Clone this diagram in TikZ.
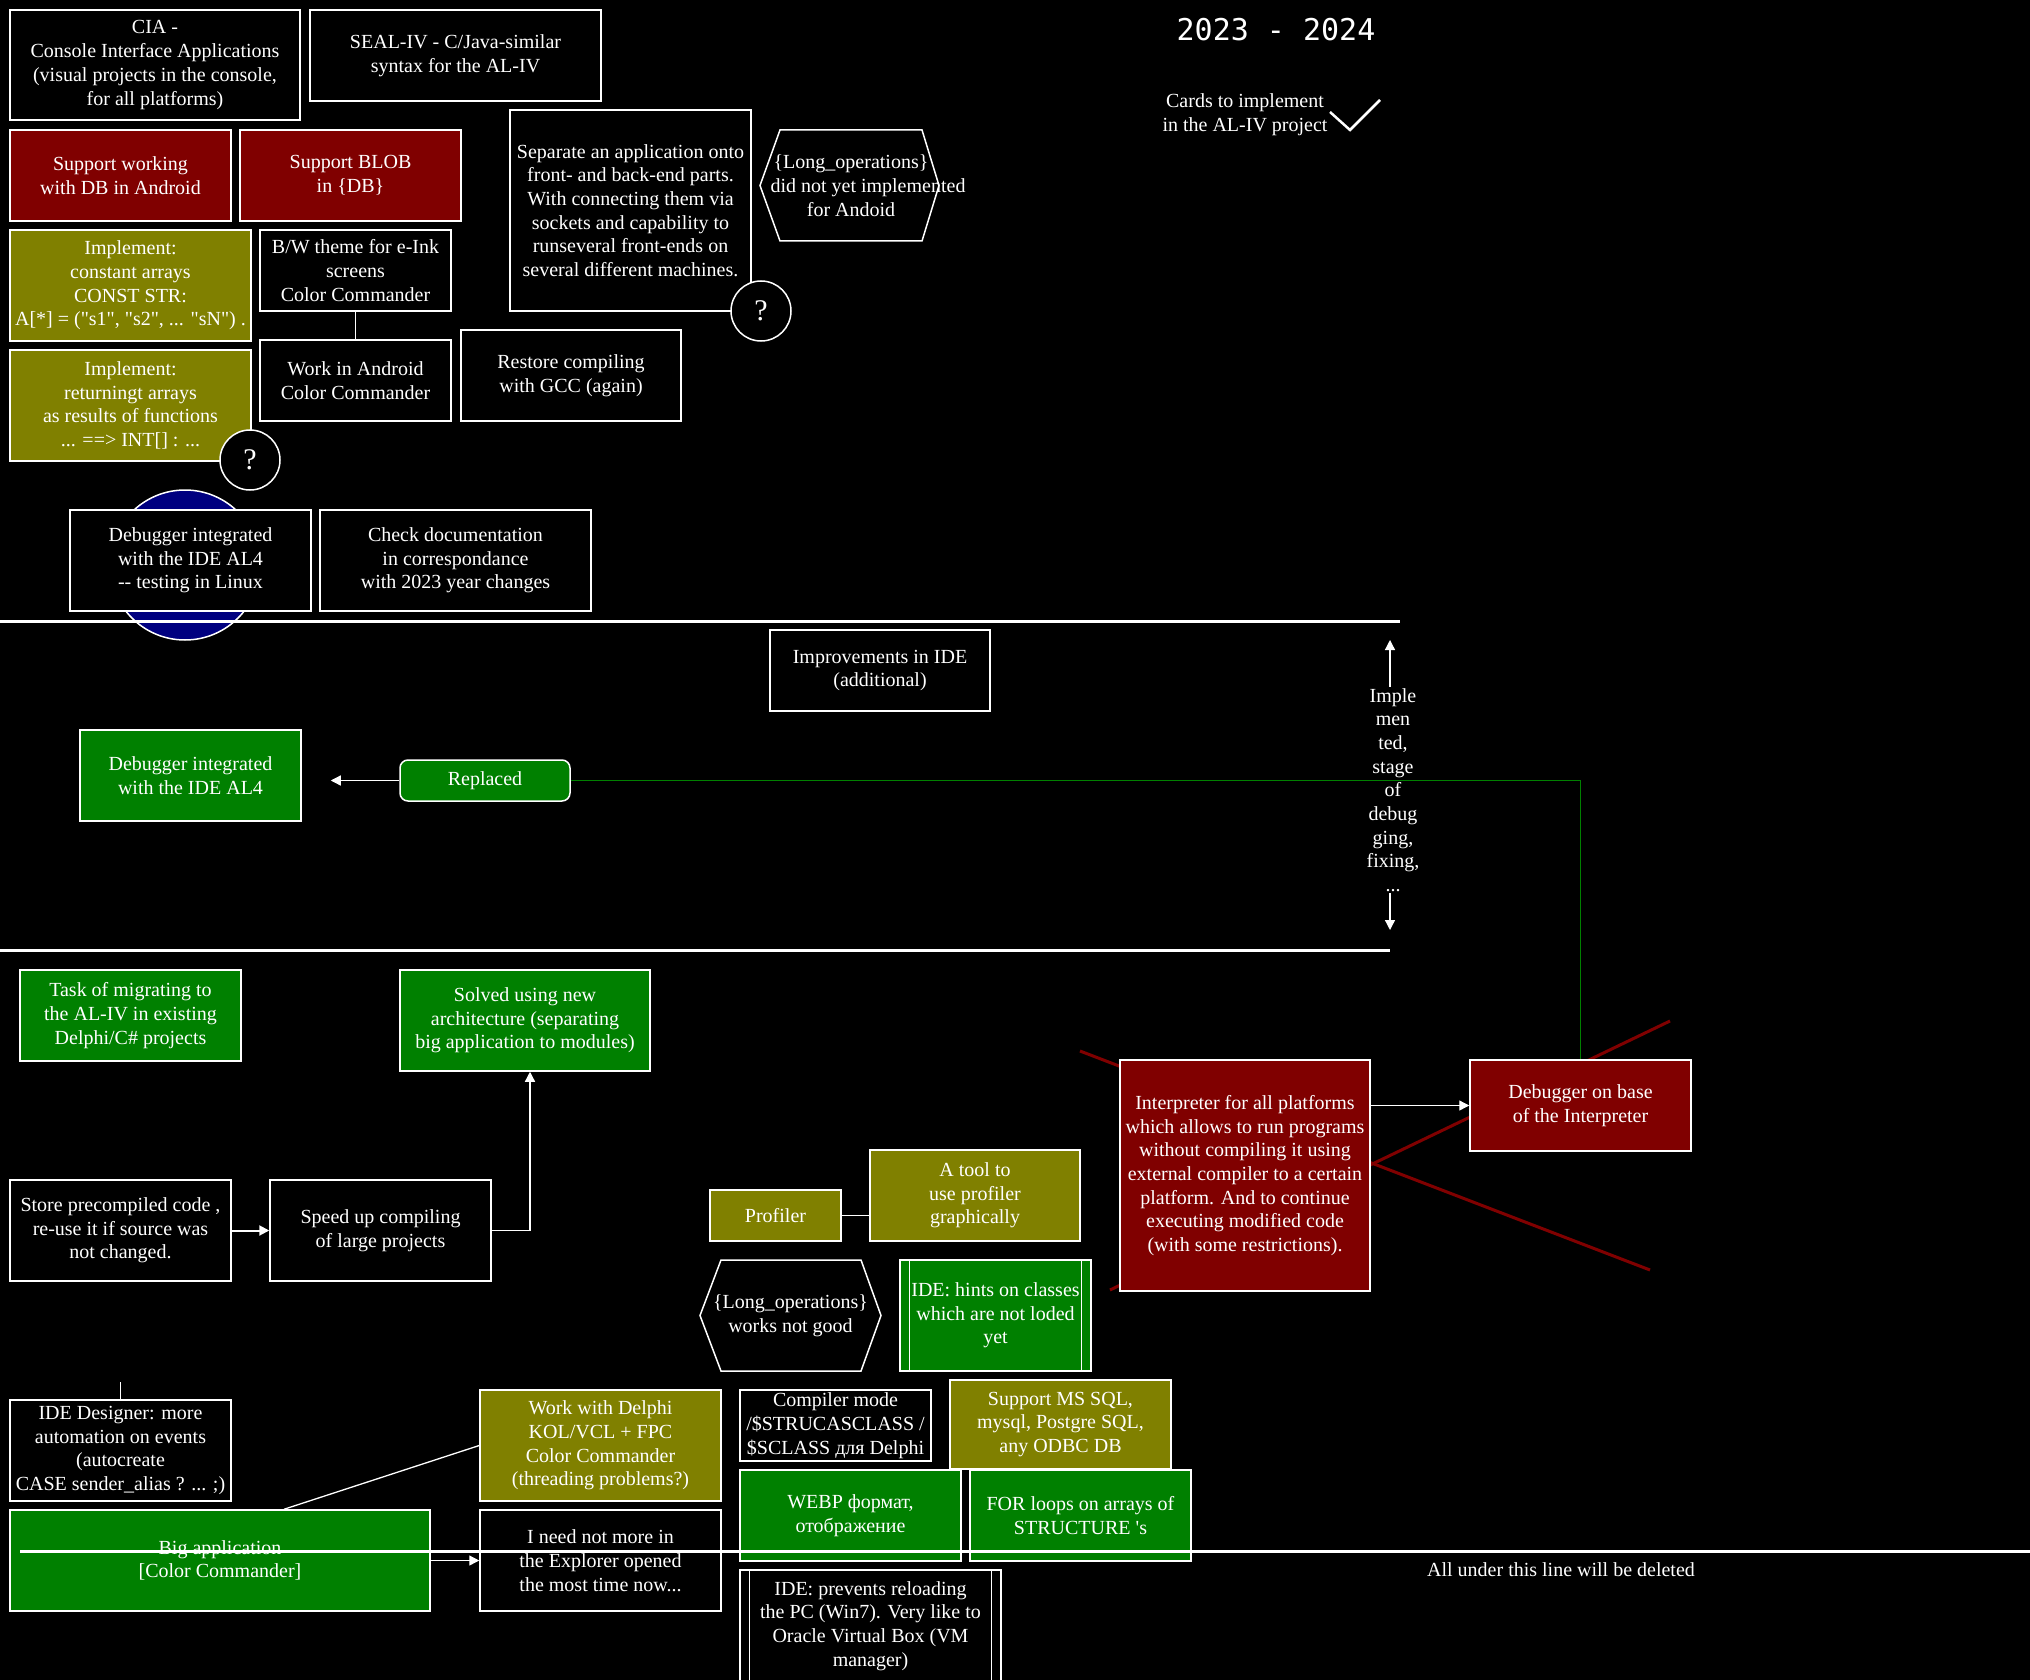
\documentclass[tikz,border=0pt]{standalone}
\usepackage{fontspec}
\setmainfont{Liberation Serif}[Ligatures=TeXOff]
\newfontfamily\lcdfont{DejaVu Sans Mono}
\usetikzlibrary{arrows.meta}
\definecolor{redC}{RGB}{128,0,0}
\definecolor{oliveC}{RGB}{128,128,0}
\definecolor{greenC}{RGB}{0,128,0}
\definecolor{navyC}{RGB}{0,0,128}
\begin{document}
\begin{tikzpicture}[x=1pt,y=-1pt,
  every node/.style={text=white, font=\fontsize{20}{23.7}\selectfont},
  box/.style={draw=white, line width=1.5pt, fill=black, align=center, inner sep=0pt},
  redbox/.style={box, fill=redC},
  olivebox/.style={box, fill=oliveC},
  greenbox/.style={box, fill=greenC},
  qmark/.style={circle, draw=white, line width=1.5pt, fill=black, minimum size=60pt, inner sep=0pt, font=\fontsize{30}{30}\selectfont},
  arr/.style={draw=white, line width=1.3pt, -{Triangle[length=10pt,width=10pt]}},
  link/.style={draw=white, line width=1.3pt},
  sepline/.style={draw=white, line width=3pt},
  hexa/.style={draw=white, line width=1.5pt, fill=black},
  xline/.style={draw=redC, line width=3pt},
]
\useasboundingbox (0,0) rectangle (2030,1680);
\fill[black] (0,0) rectangle (2030,1680);
\clip (0,0) rectangle (2030,1680);

% background decorations
\draw[white, line width=1.5pt, fill=navyC] (185,565) circle[radius=75pt];
\draw[xline] (1080,1051) -- (1650,1270);
\draw[xline] (1110,1290) -- (1670,1021);

% title
\node[font=\lcdfont\fontsize{30}{30}\selectfont] (title) at (1276,30) {2023 - 2024};
\node[align=center] (cards) at (1245,115) {Cards to implement\\in the AL-IV project};
\draw[white, line width=2.5pt] (1330,112) -- (1350,130) -- (1380,100);

% top section
\node[box, minimum width=290pt, minimum height=110pt] (cia) at (155,65) {CIA -\\Console Interface Applications\\(visual projects in the console,\\for all platforms)};
\node[box, minimum width=291pt, minimum height=91pt] (seal) at (455.5,55.5) {SEAL-IV - C/Java-similar\\syntax for the AL-IV};
\node[redbox, minimum width=221pt, minimum height=91pt] (dbandroid) at (120.5,175.5) {Support working\\with DB in Android};
\node[redbox, minimum width=221pt, minimum height=91pt] (blob) at (350.5,175.5) {Support BLOB\\in \{DB\}};
\node[olivebox, minimum width=241pt, minimum height=111pt] (constarr) at (130.5,285.5) {Implement:\\constant arrays\\CONST STR:\\A[*] = ("s1", "s2", ... "sN") .};
\node[box, minimum width=191pt, minimum height=81pt] (bw) at (355.5,270.5) {B/W theme for e-Ink\\screens\\Color Commander};
\node[olivebox, minimum width=241pt, minimum height=111pt] (retarr) at (130.5,405.5) {Implement:\\returningt arrays\\as results of functions\\... ==> INT{[}{]} : ...};
\node[box, minimum width=191pt, minimum height=81pt] (android) at (355.5,380.5) {Work in Android\\Color Commander};
\node[box, minimum width=220pt, minimum height=91pt] (restore) at (571,375.5) {Restore compiling\\with GCC (again)};
\node[box, minimum width=241pt, minimum height=201pt] (separate) at (630.5,210.5) {Separate an application onto\\front- and back-end parts.\\With connecting them via\\sockets and capability to\\runseveral front-ends on\\several different machines.};
\draw[hexa] (760,185.5) -- (780,130) -- (922,130) -- (939,185.5) -- (922,241) -- (780,241) -- cycle;
\node[align=center, inner sep=0pt] (hexone) at (851,185.5) {\{Long\_operations\}\\\hspace*{34pt}did not yet implemented\\for Andoid};
\node[qmark] (qone) at (250,460) {?};
\node[qmark] (qtwo) at (761,311) {?};
\node[box, minimum width=241pt, minimum height=101pt] (dbglinux) at (190.5,560.5) {Debugger integrated\\with the IDE AL4\\-{}- testing in Linux};
\node[box, minimum width=271pt, minimum height=101pt] (checkdoc) at (455.5,560.5) {Check documentation\\in correspondance\\with 2023 year changes};

% middle section
\node[box, minimum width=220pt, minimum height=81pt] (impr) at (880,670.5) {Improvements in IDE\\(additional)};
\node[greenbox, minimum width=221pt, minimum height=91pt] (dbgide) at (190.5,775.5) {Debugger integrated\\with the IDE AL4};
\node[greenbox, rounded corners=8pt, minimum width=170pt, minimum height=41pt] (replaced) at (485,780.5) {Replaced};
\node[align=center, inner sep=1pt] (impl) at (1393,790) {Imple\\men\\ted,\\stage\\of\\debug\\ging,\\fixing,\\...};
\coordinate (upTip) at (1390,640);
\coordinate (downTip) at (1390,930);

% lower section
\node[greenbox, minimum width=221pt, minimum height=91pt] (task) at (130.5,1015.5) {Task of migrating to\\the AL-IV in existing\\Delphi/C\# projects};
\node[greenbox, minimum width=250pt, minimum height=101pt] (solved) at (525,1020.5) {Solved using new\\architecture (separating\\big application to modules)};
\node[box, minimum width=221pt, minimum height=101pt] (store) at (120.5,1230.5) {Store precompiled code ,\\re-use it if source was\\not changed.};
\node[box, minimum width=221pt, minimum height=101pt] (speed) at (380.5,1230.5) {Speed up compiling\\of large projects};
\node[olivebox, minimum width=131pt, minimum height=51pt] (profiler) at (775.5,1215.5) {Profiler};
\node[olivebox, minimum width=210pt, minimum height=91pt] (tool) at (975,1195.5) {A tool to\\use profiler\\graphically};
\draw[hexa] (700,1315.5) -- (721,1260) -- (861,1260) -- (881,1315.5) -- (861,1371) -- (721,1371) -- cycle;
\node[align=center, inner sep=0pt] (hextwo) at (790.5,1315.5) {\{Long\_operations\}\\works not good};
\node[greenbox, minimum width=191pt, minimum height=111pt] (hints) at (995.5,1315.5) {IDE: hints on classes\\which are not loded\\yet};
\draw[white, line width=1.2pt] ([xshift=10pt]hints.north west) -- ([xshift=10pt]hints.south west);
\draw[white, line width=1.2pt] ([xshift=-10pt]hints.north east) -- ([xshift=-10pt]hints.south east);
\node[redbox, minimum width=250pt, minimum height=231pt] (interp) at (1245,1175.5) {Interpreter for all platforms\\which allows to run programs\\without compiling it using\\external compiler to a certain\\platform. And to continue\\executing modified code\\(with some restrictions).};
\node[redbox, minimum width=221pt, minimum height=91pt] (dbgbase) at (1580.5,1105.5) {Debugger on base\\of the Interpreter};

\node[box, minimum width=221pt, minimum height=101pt] (designer) at (120.5,1450.5) {IDE Designer: more\\automation on events\\(autocreate\\CASE sender\_alias ? ... ;)};
\coordinate (dtop) at (120.5,1382);
\node[olivebox, minimum width=241pt, minimum height=111pt] (delphi) at (600.5,1445.5) {Work with Delphi\\KOL/VCL + FPC\\Color Commander\\(threading problems?)};
\node[box, minimum width=191pt, minimum height=71pt] (compiler) at (835.5,1425.5) {Compiler mode\\/\$STRUCASCLASS /\\\$SCLASS для Delphi};
\node[olivebox, minimum width=221pt, minimum height=89pt] (mssql) at (1060.5,1424.5) {Support MS SQL,\\mysql, Postgre SQL,\\any ODBC DB};
\node[greenbox, minimum width=420pt, minimum height=101pt] (bigapp) at (220,1560.5) {Big application\\{[}Color Commander{]}};
\node[box, minimum width=241pt, minimum height=101pt] (needmore) at (600.5,1560.5) {I need not more in\\the Explorer opened\\the most time now...};
\node[greenbox, minimum width=221pt, minimum height=91pt] (webp) at (850.5,1515.5) {WEBP формат,\\отображение};
\node[greenbox, minimum width=221pt, minimum height=91pt] (forloops) at (1080.5,1515.5) {FOR loops on arrays of\\STRUCTURE 's};
\node[box, minimum width=261pt, minimum height=112pt] (prevents) at (870.5,1626) {IDE: prevents reloading\\the PC (Win7). Very like to\\Oracle Virtual Box (VM\\manager)};
\draw[white, line width=1.2pt] ([xshift=10pt]prevents.north west) -- ([xshift=10pt]prevents.south west);
\draw[white, line width=1.2pt] ([xshift=-10pt]prevents.north east) -- ([xshift=-10pt]prevents.south east);
\node (deleted) at (1561,1570) {All under this line will be deleted};

% connectors
\draw[link] (bw.south) -- (android.north);
\draw[arr, shorten >=29pt] (replaced.west) -- (replaced.west -| dbgide.east);
\draw[greenC, line width=1.5pt] (replaced.east) -| (dbgbase.north);
\draw[arr] (impl.north -| upTip) -- (upTip);
\draw[arr] (impl.south -| downTip) -- (downTip);
\draw[arr, line width=2pt] (store.east) -- (speed.west);
\draw[arr] (speed.east) -| ([xshift=5pt]solved.south);
\draw[link] (profiler.east) -- (profiler.east -| tool.west);
\draw[arr] (interp.east |- dbgbase.west) -- (dbgbase.west);
\draw[link] (designer.north) -- (dtop);
\draw[link] ([xshift=64pt]bigapp.north) -- (delphi.west);
\draw[arr] (bigapp.east) -- (needmore.west);

% separator lines
\draw[sepline] (0,621) -- (1400,621);
\draw[sepline] (0,950) -- (1390,950);
\draw[sepline] (20,1551) -- (2030,1551);
\end{tikzpicture}
\end{document}
